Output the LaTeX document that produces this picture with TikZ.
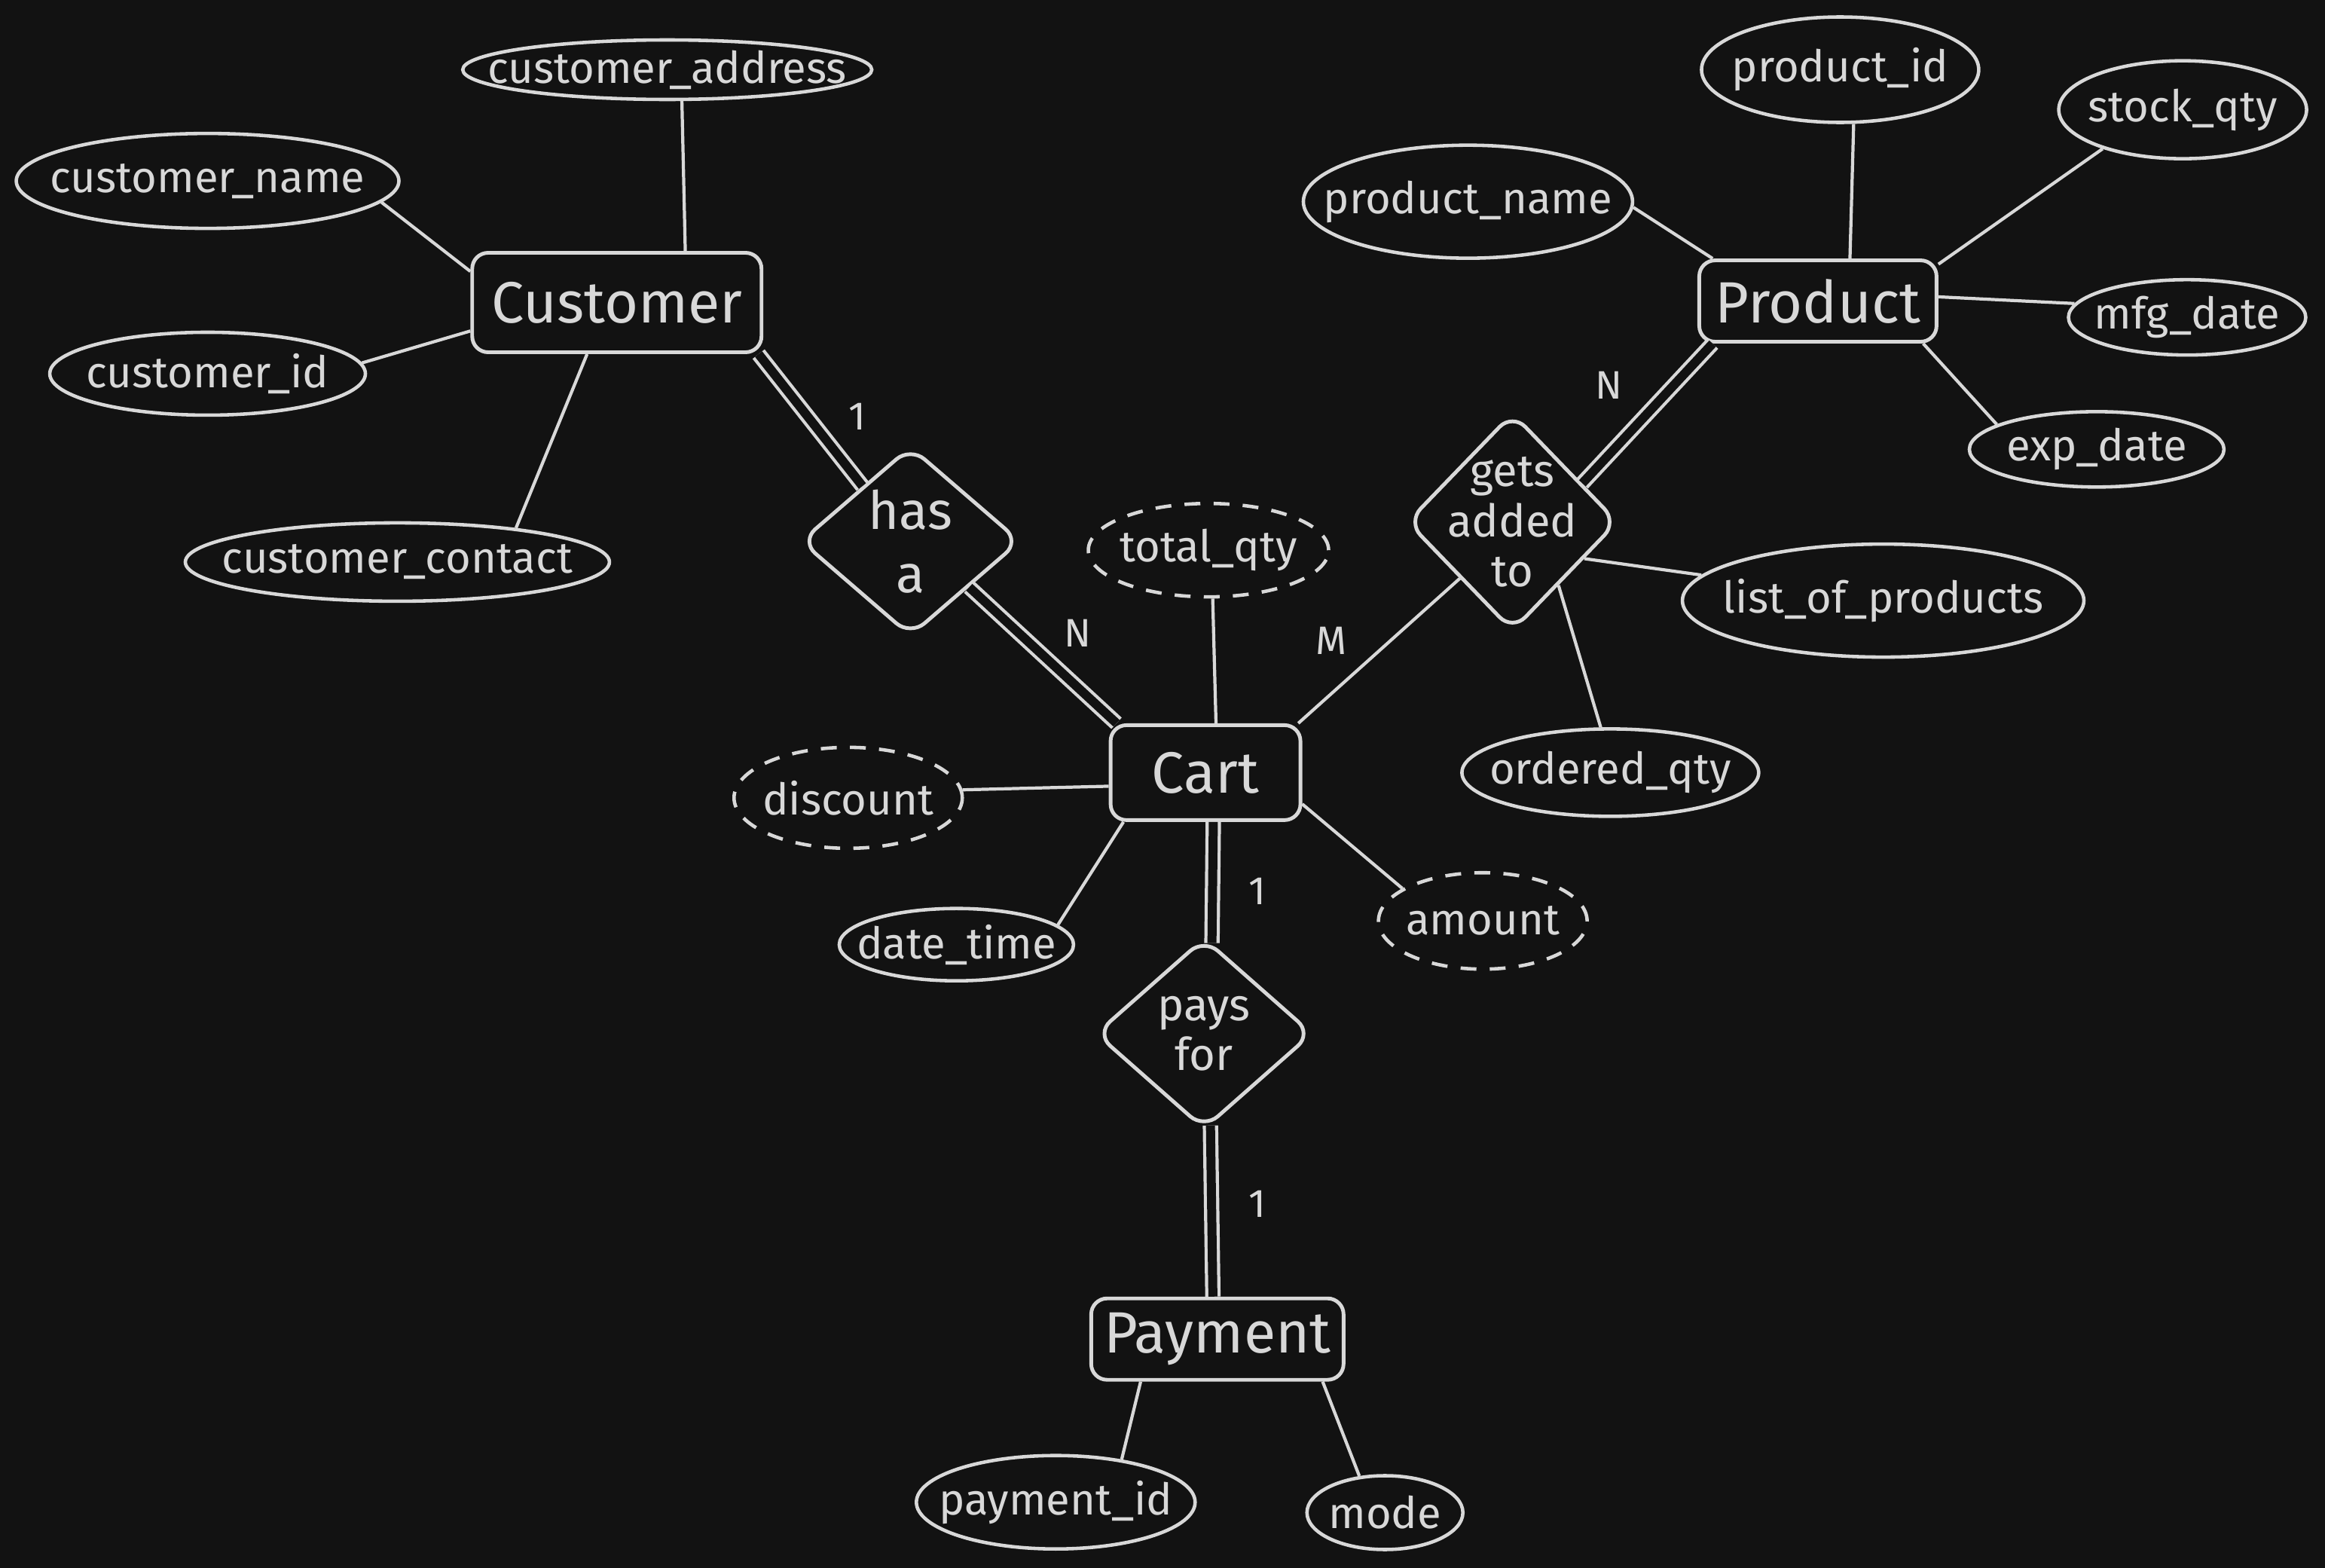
\documentclass[tikz,border=0pt]{standalone}
\usepackage{fontspec}
\setmainfont{Fira Sans}
\usetikzlibrary{shapes.geometric,positioning}
\definecolor{canvas}{HTML}{121212}
\definecolor{chalk}{HTML}{D8D8D8}

\begin{document}
\begin{tikzpicture}[x=0.01968cm, y=-0.01968cm,
    every node/.style={text=chalk},
    entity/.style 2 args={draw=chalk, line width=1.4pt, rounded corners=6pt,
      minimum width=#1, minimum height=#2, font=\fontsize{22}{26}\selectfont},
    attr/.style 2 args={draw=chalk, line width=1.3pt, ellipse, inner xsep=-40pt, inner ysep=-12pt,
      minimum width=#1, minimum height=#2, font=\fontsize{16.5}{20}\selectfont},
    dattr/.style 2 args={attr={#1}{#2}, dash pattern=on 6pt off 5pt},
    rel/.style 2 args={draw=chalk, line width=1.4pt, diamond, rounded corners=7pt,
      inner sep=0pt, minimum width=#1, minimum height=#2},
    reltext/.style={align=center, font=\fontsize{17}{19}\selectfont},
    link/.style={draw=chalk, line width=1.2pt},
    dlink/.style={draw=chalk, line width=1.2pt, double=canvas, double distance=0.12cm},
    card/.style={font=\fontsize{15}{18}\selectfont}]
  \useasboundingbox (0,0) rectangle (1568,1057);
  \fill[canvas] (-5,-5) rectangle (1573,1062);

  % entities
  \node[entity={3.84cm}{1.32cm}] (customer) at (416,204) {Customer};
  \node[entity={3.15cm}{1.08cm}] (product) at (1226,203) {Product};
  \node[entity={2.52cm}{1.26cm}] (cart) at (813,521) {Cart};
  \node[entity={3.35cm}{1.08cm}] (payment) at (821,903) {Payment};

  % relationships
  \node[rel={2.92cm}{2.52cm},
    label={[reltext, font=\fontsize{20}{24}\selectfont]center:has\\a}] (hasa) at (614,365) {};
  \node[rel={2.80cm}{2.90cm}, label={[reltext]center:gets\\added\\to}] (gat) at (1020,352) {};
  \node[rel={2.88cm}{2.54cm}, label={[reltext]center:pays\\for}] (paysfor) at (812,697) {};

  % attributes
  \node[attr={5.43cm}{0.79cm}] (caddr) at (450,47) {customer\_address};
  \node[attr={5.08cm}{1.26cm}] (cname) at (140,122) {customer\_name};
  \node[attr={4.19cm}{1.10cm}] (cid) at (140,252) {customer\_id};
  \node[attr={5.63cm}{1.04cm}] (ccontact) at (268,379) {customer\_contact};
  \node[attr={3.68cm}{1.40cm}] (pid) at (1241,47) {product\_id};
  \node[attr={3.29cm}{1.30cm}] (stock) at (1472,74) {stock\_qty};
  \node[attr={4.37cm}{1.50cm}] (pname) at (990,136) {product\_name};
  \node[attr={3.15cm}{1.00cm}] (mfg) at (1475,214) {mfg\_date};
  \node[attr={3.38cm}{1.00cm}] (exp) at (1414,303) {exp\_date};
  \node[attr={5.33cm}{1.50cm}] (plist) at (1270,405) {list\_of\_products};
  \node[attr={3.94cm}{1.16cm}] (oqty) at (1086,521) {ordered\_qty};
  \node[dattr={3.19cm}{1.24cm}] (tqty) at (815,371) {total\_qty};
  \node[dattr={3.03cm}{1.34cm}] (disc) at (572,538) {discount};
  \node[attr={3.11cm}{0.96cm}] (dtime) at (645,637) {date\_time};
  \node[dattr={2.77cm}{1.28cm}] (amount) at (1000,621) {amount};
  \node[attr={3.70cm}{1.24cm}] (payid) at (712,1013) {payment\_id};
  \node[attr={2.07cm}{0.98cm}] (mode) at (934,1020) {mode};

  % cardinalities
  \node[card] (card1) at (578,281) {1};
  \node[card] (card2) at (727,427) {N};
  \node[card] (card3) at (898,432) {M};
  \node[card] (card4) at (1085,260) {N};
  \node[card] (card5) at (848,601) {1};
  \node[card] (card6) at (848,812) {1};

  \draw[link] (caddr.-65) -- (customer.37);
  \draw[link] (cname.-7) -- (customer.168);
  \draw[link] (cid.4) -- (customer.191);
  \draw[link] (ccontact.16) -- (customer.240);
  \draw[dlink] (customer.-20) -- (hasa.131);
  \draw[dlink] (hasa.-38) -- (cart.151);
  \draw[link] (tqty.-85) -- (cart.78);
  \draw[link] (gat.227) -- (cart.28);
  \draw[dlink] (product.202) -- (gat.29);
  \draw[link] (pname.-2) -- (product.158);
  \draw[link] (pid.-76) -- (product.53);
  \draw[link] (stock.206) -- (product.17);
  \draw[link] (mfg.173) -- (product.2);
  \draw[link] (exp.166) -- (product.-22);
  \draw[link] (gat.-27) -- (plist.172);
  \draw[link] (gat.-54) -- (oqty.102);
  \draw[link] (disc.4) -- (cart.188);
  \draw[link] (dtime.11) -- (cart.211);
  \draw[link] (amount.158) -- (cart.-18);
  \draw[dlink] (cart.-81) -- (paysfor.85);
  \draw[dlink] (paysfor.-86) -- (payment.96);
  \draw[link] (payment.209) -- (payid.33);
  \draw[link] (payment.-22) -- (mode.125);
\end{tikzpicture}
\end{document}
